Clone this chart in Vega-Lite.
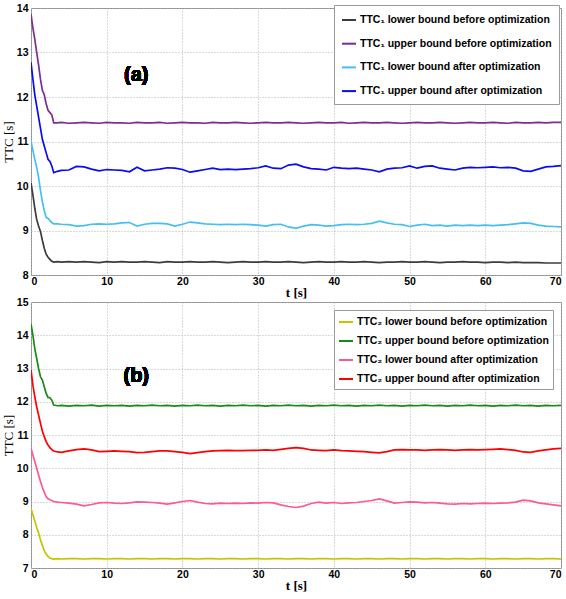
{
"$schema": "https://vega.github.io/schema/vega-lite/v6.json",
"padding": {"left": 1, "top": 2, "right": 0, "bottom": 0},
"spacing": -4,
"datasets": {"d": [
{"t":0,"a1":10.07,"a2":13.86,"a3":11.01,"a4":12.78,"b1":8.79,"b2":14.34,"b3":10.6,"b4":12.96},
{"t":0.25,"a1":9.8,"a2":13.55,"a3":10.8,"a4":12.4,"b1":8.6,"b2":14.0,"b3":10.4,"b4":12.5},
{"t":0.5,"a1":9.5,"a2":13.3,"a3":10.6,"a4":12.05,"b1":8.42,"b2":13.6,"b3":10.2,"b4":12.15},
{"t":0.75,"a1":9.25,"a2":13.0,"a3":10.42,"a4":11.8,"b1":8.22,"b2":13.3,"b3":10.0,"b4":11.85},
{"t":1,"a1":9.1,"a2":12.72,"a3":10.2,"a4":11.55,"b1":8.05,"b2":13.0,"b3":9.8,"b4":11.6},
{"t":1.25,"a1":8.98,"a2":12.4,"a3":9.9,"a4":11.3,"b1":7.85,"b2":12.75,"b3":9.6,"b4":11.35},
{"t":1.5,"a1":8.78,"a2":12.15,"a3":9.65,"a4":11.05,"b1":7.68,"b2":12.65,"b3":9.42,"b4":11.12},
{"t":1.75,"a1":8.6,"a2":12.05,"a3":9.45,"a4":10.9,"b1":7.52,"b2":12.45,"b3":9.28,"b4":10.95},
{"t":2,"a1":8.47,"a2":11.85,"a3":9.3,"a4":10.75,"b1":7.42,"b2":12.25,"b3":9.15,"b4":10.8},
{"t":2.25,"a1":8.4,"a2":11.7,"a3":9.27,"a4":10.6,"b1":7.35,"b2":12.13,"b3":9.08,"b4":10.7},
{"t":2.5,"a1":8.35,"a2":11.65,"a3":9.22,"a4":10.55,"b1":7.3,"b2":12.12,"b3":9.05,"b4":10.62},
{"t":2.75,"a1":8.31,"a2":11.6,"a3":9.18,"a4":10.45,"b1":7.28,"b2":12.05,"b3":9.03,"b4":10.56},
{"t":3,"a1":8.29,"a2":11.42,"a3":9.15,"a4":10.3,"b1":7.27,"b2":11.9,"b3":9.0,"b4":10.52},
{"t":3.5,"a1":8.30,"a2":11.42,"a3":9.15,"a4":10.33,"b1":7.28,"b2":11.88,"b3":8.98,"b4":10.49},
{"t":4,"a1":8.29,"a2":11.43,"a3":9.14,"a4":10.35,"b1":7.27,"b2":11.89,"b3":8.97,"b4":10.48},
{"t":5,"a1":8.30,"a2":11.41,"a3":9.13,"a4":10.36,"b1":7.28,"b2":11.87,"b3":8.95,"b4":10.52},
{"t":6,"a1":8.29,"a2":11.42,"a3":9.10,"a4":10.44,"b1":7.28,"b2":11.89,"b3":8.92,"b4":10.56},
{"t":7,"a1":8.30,"a2":11.43,"a3":9.11,"a4":10.43,"b1":7.27,"b2":11.88,"b3":8.87,"b4":10.58},
{"t":8,"a1":8.29,"a2":11.42,"a3":9.14,"a4":10.38,"b1":7.28,"b2":11.90,"b3":8.91,"b4":10.55},
{"t":9,"a1":8.28,"a2":11.41,"a3":9.15,"a4":10.34,"b1":7.28,"b2":11.87,"b3":8.96,"b4":10.50},
{"t":10,"a1":8.30,"a2":11.43,"a3":9.14,"a4":10.37,"b1":7.27,"b2":11.89,"b3":8.97,"b4":10.51},
{"t":11,"a1":8.29,"a2":11.42,"a3":9.15,"a4":10.36,"b1":7.28,"b2":11.88,"b3":8.95,"b4":10.52},
{"t":12,"a1":8.30,"a2":11.42,"a3":9.17,"a4":10.35,"b1":7.28,"b2":11.89,"b3":8.94,"b4":10.51},
{"t":13,"a1":8.29,"a2":11.41,"a3":9.18,"a4":10.32,"b1":7.27,"b2":11.87,"b3":8.96,"b4":10.50},
{"t":14,"a1":8.29,"a2":11.43,"a3":9.10,"a4":10.42,"b1":7.28,"b2":11.89,"b3":8.99,"b4":10.47},
{"t":15,"a1":8.30,"a2":11.42,"a3":9.14,"a4":10.34,"b1":7.28,"b2":11.88,"b3":8.98,"b4":10.48},
{"t":16,"a1":8.29,"a2":11.42,"a3":9.16,"a4":10.36,"b1":7.27,"b2":11.90,"b3":8.97,"b4":10.50},
{"t":17,"a1":8.28,"a2":11.43,"a3":9.16,"a4":10.38,"b1":7.28,"b2":11.88,"b3":8.95,"b4":10.52},
{"t":18,"a1":8.30,"a2":11.41,"a3":9.15,"a4":10.41,"b1":7.28,"b2":11.89,"b3":8.92,"b4":10.52},
{"t":19,"a1":8.29,"a2":11.42,"a3":9.10,"a4":10.40,"b1":7.27,"b2":11.87,"b3":8.96,"b4":10.50},
{"t":20,"a1":8.29,"a2":11.43,"a3":9.14,"a4":10.37,"b1":7.28,"b2":11.89,"b3":9.00,"b4":10.48},
{"t":21,"a1":8.30,"a2":11.42,"a3":9.19,"a4":10.31,"b1":7.28,"b2":11.88,"b3":9.03,"b4":10.44},
{"t":22,"a1":8.29,"a2":11.42,"a3":9.17,"a4":10.34,"b1":7.27,"b2":11.90,"b3":8.98,"b4":10.47},
{"t":23,"a1":8.29,"a2":11.41,"a3":9.15,"a4":10.37,"b1":7.28,"b2":11.88,"b3":8.94,"b4":10.50},
{"t":24,"a1":8.30,"a2":11.43,"a3":9.14,"a4":10.40,"b1":7.28,"b2":11.89,"b3":8.93,"b4":10.52},
{"t":25,"a1":8.29,"a2":11.42,"a3":9.13,"a4":10.37,"b1":7.27,"b2":11.87,"b3":8.95,"b4":10.53},
{"t":26,"a1":8.28,"a2":11.42,"a3":9.14,"a4":10.38,"b1":7.28,"b2":11.89,"b3":8.94,"b4":10.54},
{"t":27,"a1":8.29,"a2":11.43,"a3":9.13,"a4":10.37,"b1":7.28,"b2":11.88,"b3":8.95,"b4":10.53},
{"t":28,"a1":8.30,"a2":11.42,"a3":9.14,"a4":10.38,"b1":7.27,"b2":11.90,"b3":8.94,"b4":10.53},
{"t":29,"a1":8.29,"a2":11.41,"a3":9.13,"a4":10.39,"b1":7.28,"b2":11.88,"b3":8.96,"b4":10.54},
{"t":30,"a1":8.29,"a2":11.42,"a3":9.12,"a4":10.41,"b1":7.28,"b2":11.89,"b3":8.95,"b4":10.54},
{"t":31,"a1":8.30,"a2":11.43,"a3":9.10,"a4":10.45,"b1":7.27,"b2":11.87,"b3":8.97,"b4":10.55},
{"t":32,"a1":8.29,"a2":11.42,"a3":9.13,"a4":10.40,"b1":7.28,"b2":11.89,"b3":8.96,"b4":10.54},
{"t":33,"a1":8.29,"a2":11.42,"a3":9.14,"a4":10.39,"b1":7.28,"b2":11.88,"b3":8.90,"b4":10.57},
{"t":34,"a1":8.30,"a2":11.43,"a3":9.08,"a4":10.47,"b1":7.27,"b2":11.90,"b3":8.85,"b4":10.60},
{"t":35,"a1":8.29,"a2":11.42,"a3":9.05,"a4":10.49,"b1":7.28,"b2":11.88,"b3":8.82,"b4":10.62},
{"t":36,"a1":8.28,"a2":11.41,"a3":9.10,"a4":10.43,"b1":7.28,"b2":11.89,"b3":8.86,"b4":10.60},
{"t":37,"a1":8.29,"a2":11.42,"a3":9.13,"a4":10.39,"b1":7.27,"b2":11.87,"b3":8.94,"b4":10.55},
{"t":38,"a1":8.30,"a2":11.43,"a3":9.12,"a4":10.38,"b1":7.28,"b2":11.89,"b3":8.98,"b4":10.54},
{"t":39,"a1":8.29,"a2":11.42,"a3":9.10,"a4":10.36,"b1":7.28,"b2":11.88,"b3":8.95,"b4":10.53},
{"t":40,"a1":8.29,"a2":11.42,"a3":9.11,"a4":10.42,"b1":7.27,"b2":11.90,"b3":8.97,"b4":10.55},
{"t":41,"a1":8.30,"a2":11.43,"a3":9.13,"a4":10.40,"b1":7.28,"b2":11.88,"b3":8.94,"b4":10.53},
{"t":42,"a1":8.29,"a2":11.41,"a3":9.14,"a4":10.39,"b1":7.28,"b2":11.89,"b3":8.96,"b4":10.52},
{"t":43,"a1":8.29,"a2":11.42,"a3":9.13,"a4":10.40,"b1":7.27,"b2":11.87,"b3":8.97,"b4":10.51},
{"t":44,"a1":8.30,"a2":11.43,"a3":9.14,"a4":10.38,"b1":7.28,"b2":11.89,"b3":9.00,"b4":10.50},
{"t":45,"a1":8.29,"a2":11.42,"a3":9.16,"a4":10.36,"b1":7.28,"b2":11.88,"b3":9.03,"b4":10.48},
{"t":46,"a1":8.28,"a2":11.42,"a3":9.21,"a4":10.32,"b1":7.27,"b2":11.90,"b3":9.08,"b4":10.46},
{"t":47,"a1":8.29,"a2":11.43,"a3":9.17,"a4":10.38,"b1":7.28,"b2":11.88,"b3":9.02,"b4":10.50},
{"t":48,"a1":8.29,"a2":11.42,"a3":9.14,"a4":10.40,"b1":7.28,"b2":11.89,"b3":8.95,"b4":10.55},
{"t":49,"a1":8.30,"a2":11.41,"a3":9.13,"a4":10.41,"b1":7.27,"b2":11.87,"b3":8.97,"b4":10.56},
{"t":50,"a1":8.29,"a2":11.42,"a3":9.09,"a4":10.45,"b1":7.28,"b2":11.89,"b3":8.99,"b4":10.55},
{"t":51,"a1":8.29,"a2":11.43,"a3":9.12,"a4":10.40,"b1":7.28,"b2":11.88,"b3":8.98,"b4":10.55},
{"t":52,"a1":8.30,"a2":11.42,"a3":9.14,"a4":10.44,"b1":7.27,"b2":11.90,"b3":8.96,"b4":10.54},
{"t":53,"a1":8.29,"a2":11.42,"a3":9.11,"a4":10.45,"b1":7.28,"b2":11.88,"b3":8.97,"b4":10.55},
{"t":54,"a1":8.28,"a2":11.43,"a3":9.12,"a4":10.40,"b1":7.28,"b2":11.89,"b3":8.95,"b4":10.56},
{"t":55,"a1":8.29,"a2":11.42,"a3":9.10,"a4":10.38,"b1":7.27,"b2":11.87,"b3":8.93,"b4":10.55},
{"t":56,"a1":8.29,"a2":11.41,"a3":9.12,"a4":10.36,"b1":7.28,"b2":11.89,"b3":8.92,"b4":10.54},
{"t":57,"a1":8.30,"a2":11.42,"a3":9.11,"a4":10.40,"b1":7.28,"b2":11.88,"b3":8.94,"b4":10.55},
{"t":58,"a1":8.29,"a2":11.43,"a3":9.12,"a4":10.42,"b1":7.27,"b2":11.90,"b3":8.93,"b4":10.56},
{"t":59,"a1":8.29,"a2":11.42,"a3":9.11,"a4":10.41,"b1":7.28,"b2":11.88,"b3":8.94,"b4":10.55},
{"t":60,"a1":8.28,"a2":11.42,"a3":9.12,"a4":10.42,"b1":7.28,"b2":11.89,"b3":8.95,"b4":10.56},
{"t":61,"a1":8.29,"a2":11.43,"a3":9.11,"a4":10.43,"b1":7.27,"b2":11.87,"b3":8.94,"b4":10.57},
{"t":62,"a1":8.29,"a2":11.42,"a3":9.12,"a4":10.41,"b1":7.28,"b2":11.89,"b3":8.95,"b4":10.58},
{"t":63,"a1":8.28,"a2":11.41,"a3":9.13,"a4":10.42,"b1":7.28,"b2":11.88,"b3":8.96,"b4":10.56},
{"t":64,"a1":8.29,"a2":11.43,"a3":9.15,"a4":10.40,"b1":7.27,"b2":11.90,"b3":8.98,"b4":10.54},
{"t":65,"a1":8.28,"a2":11.42,"a3":9.17,"a4":10.34,"b1":7.28,"b2":11.88,"b3":9.04,"b4":10.49},
{"t":66,"a1":8.28,"a2":11.42,"a3":9.16,"a4":10.33,"b1":7.28,"b2":11.89,"b3":9.02,"b4":10.48},
{"t":67,"a1":8.28,"a2":11.43,"a3":9.12,"a4":10.38,"b1":7.27,"b2":11.87,"b3":8.96,"b4":10.52},
{"t":68,"a1":8.27,"a2":11.42,"a3":9.10,"a4":10.43,"b1":7.28,"b2":11.89,"b3":8.93,"b4":10.55},
{"t":69,"a1":8.27,"a2":11.43,"a3":9.09,"a4":10.44,"b1":7.28,"b2":11.88,"b3":8.90,"b4":10.58},
{"t":70,"a1":8.27,"a2":11.43,"a3":9.08,"a4":10.46,"b1":7.27,"b2":11.89,"b3":8.87,"b4":10.60}
]},
"vconcat": [
{
"width": 530, "height": 267,
"data": {"name": "d"},
"layer": [
{
"transform": [{"fold": ["a1","a2","a3","a4"], "as": ["s","v"]}],
"mark": {"type": "line", "strokeWidth": 1.7, "clip": true},
"encoding": {
"x": {"field": "t", "type": "quantitative", "scale": {"domain": [0,70], "nice": false},
"axis": {"values": [0,10,20,30,40,50,60,70], "title": "t [s]", "titleFontWeight": "bold", "titlePadding": 0, "labelPadding": 1, "labelOverlap": false}},
"y": {"field": "v", "type": "quantitative", "scale": {"domain": [8,14], "nice": false, "zero": false},
"axis": {"values": [8,9,10,11,12,13,14], "title": "TTC [s]", "labelOverlap": false}},
"color": {"field": "s", "type": "nominal",
"scale": {"domain": ["a1","a2","a3","a4"], "range": ["#3c3c3c","#7e2c8e","#45bff0","#0a0af5"]},
"legend": {"orient": "none", "legendX": 303, "legendY": -3, "rowPadding": 9.7, "padding": 7,
"labelExpr": "{'a1':'TTC₁ lower bound before optimization','a2':'TTC₁ upper bound before optimization','a3':'TTC₁ lower bound after optimization','a4':'TTC₁ upper bound after optimization'}[datum.label]"}},
"order": {"field": "t", "type": "quantitative"}
}
},
{
"mark": {"type": "text", "font": "Liberation Sans", "fontWeight": "bold", "fontSize": 20, "fill": "#000000", "stroke": "transparent", "strokeWidth": 0},
"encoding": {
"x": {"datum": 13.9, "type": "quantitative", "axis": {"values": [0,10,20,30,40,50,60,70], "title": "t [s]", "titleFontWeight": "bold", "titlePadding": 0, "labelPadding": 1, "labelOverlap": false}},
"y": {"datum": 12.5, "type": "quantitative", "axis": {"values": [8,9,10,11,12,13,14], "title": "TTC [s]", "labelOverlap": false}},
"text": {"value": "(a)"}}
}
]
},
{
"width": 530, "height": 266,
"data": {"name": "d"},
"layer": [
{
"transform": [{"fold": ["b1","b2","b3","b4"], "as": ["s","v"]}],
"mark": {"type": "line", "strokeWidth": 1.7, "clip": true},
"encoding": {
"x": {"field": "t", "type": "quantitative", "scale": {"domain": [0,70], "nice": false},
"axis": {"values": [0,10,20,30,40,50,60,70], "title": "t [s]", "titleFontWeight": "bold", "titlePadding": 0, "labelPadding": 1, "labelOverlap": false}},
"y": {"field": "v", "type": "quantitative", "scale": {"domain": [7,15], "nice": false, "zero": false},
"axis": {"values": [7,8,9,10,11,12,13,14,15], "title": "TTC [s]", "labelOverlap": false}},
"color": {"field": "s", "type": "nominal",
"scale": {"domain": ["b1","b2","b3","b4"], "range": ["#c4c400","#178a17","#ff5a8c","#ff0000"]},
"legend": {"orient": "none", "legendX": 303, "legendY": 8, "rowPadding": 5, "padding": 4,
"labelExpr": "{'b1':'TTC₂ lower bound before optimization','b2':'TTC₂ upper bound before optimization','b3':'TTC₂ lower bound after optimization','b4':'TTC₂ upper bound after optimization'}[datum.label]"}},
"order": {"field": "t", "type": "quantitative"}
}
},
{
"mark": {"type": "text", "font": "Liberation Sans", "fontWeight": "bold", "fontSize": 20, "fill": "#000000", "stroke": "transparent", "strokeWidth": 0},
"encoding": {
"x": {"datum": 13.9, "type": "quantitative", "axis": {"values": [0,10,20,30,40,50,60,70], "title": "t [s]", "titleFontWeight": "bold", "titlePadding": 0, "labelPadding": 1, "labelOverlap": false}},
"y": {"datum": 12.77, "type": "quantitative", "axis": {"values": [7,8,9,10,11,12,13,14,15], "title": "TTC [s]", "labelOverlap": false}},
"text": {"value": "(b)"}}
}
]
}
],
"resolve": {"scale": {"color": "independent"}, "legend": {"color": "independent"}},
"config": {
"view": {"stroke": "#8c8c8c", "strokeWidth": 1},
"axis": {"grid": true, "gridColor": "#b4b4b4", "gridDash": [1,2], "gridWidth": 1, "domain": false, "ticks": false,
"labelFont": "Liberation Sans", "labelFontSize": 10.5, "labelFontWeight": "bold", "labelColor": "#000", "labelPadding": 3, "labelOverlap": false,
"titleFont": "Liberation Serif", "titleFontSize": 13, "titleColor": "#000", "titleFontWeight": "normal", "titlePadding": 1},
"legend": {"fillColor": "#ffffff", "strokeColor": "#9a9a9a", "symbolType": "stroke", "symbolSize": 196, "symbolStrokeWidth": 2,
"labelFont": "Liberation Sans", "labelFontSize": 10.5, "labelFontWeight": "bold", "labelColor": "#000", "labelLimit": 300, "title": null, "labelOffset": 3}
}
}
